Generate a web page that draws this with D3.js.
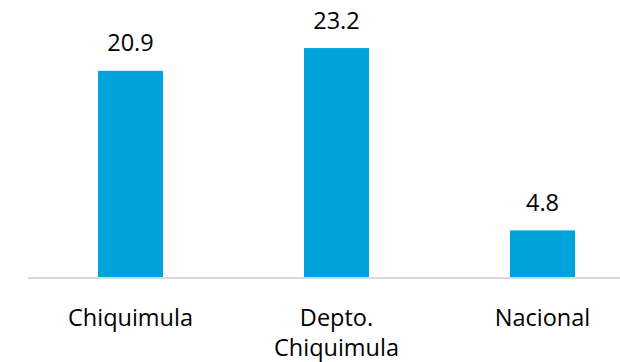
<!DOCTYPE html>
<html>
<head>
<meta charset="utf-8">
<script src="https://cdn.jsdelivr.net/npm/d3@7"></script>
<style>
  html, body { margin: 0; padding: 0; background: #ffffff; }
  svg { display: block; }
</style>
</head>
<body>
<svg id="chart" width="620" height="362"></svg>
<script>
// Category labels (each entry is a list of lines) and values
const categories = ["Chiquimula", "Depto. Chiquimula", "Nacional"];
const labelLines = [["Chiquimula"], ["Depto.", "Chiquimula"], ["Nacional"]];
const values = [20.9, 23.2, 4.8];

const width = 620, height = 362;
const baseline = 278;
const fontFamily = "'Open Sans', 'Noto Sans', sans-serif";
const fontSize = 23.5;

const svg = d3.select("#chart");

const x = d3.scaleBand()
  .domain(categories)
  .range([27.5, 645.5])
  .paddingInner(0.684)
  .paddingOuter(0.342);

const y = d3.scaleLinear()
  .domain([0, 25])
  .range([baseline, baseline - 247.8]);

// Bars
svg.append("g")
  .selectAll("rect")
  .data(values)
  .join("rect")
  .attr("x", (d, i) => x(categories[i]))
  .attr("y", d => y(d))
  .attr("width", x.bandwidth())
  .attr("height", d => y(0) - y(d))
  .attr("fill", "#00a3dc");

// Baseline axis
const axis = svg.append("g")
  .attr("transform", `translate(0,${baseline})`)
  .call(d3.axisBottom(x).tickSize(0).tickFormat(""));
axis.select(".domain")
  .attr("d", `M28,0H${width}`)
  .attr("stroke", "#d9d9d9")
  .attr("stroke-width", 2);

// Value labels
svg.append("g")
  .selectAll("text")
  .data(values)
  .join("text")
  .attr("x", (d, i) => x(categories[i]) + x.bandwidth() / 2)
  .attr("y", d => y(d) - 19.5)
  .attr("text-anchor", "middle")
  .attr("font-family", fontFamily)
  .attr("font-size", fontSize)
  .attr("fill", "#000")
  .text(d => d.toFixed(1));

// Category labels
const cat = svg.append("g")
  .selectAll("text")
  .data(categories)
  .join("text")
  .attr("x", d => x(d) + x.bandwidth() / 2)
  .attr("y", 326)
  .attr("text-anchor", "middle")
  .attr("font-family", fontFamily)
  .attr("font-size", fontSize)
  .attr("fill", "#000");
cat.selectAll("tspan")
  .data((d, i) => labelLines[i])
  .join("tspan")
  .attr("x", function () { return d3.select(this.parentNode).attr("x"); })
  .attr("dy", (d, j) => j === 0 ? 0 : 30)
  .text(d => d);
</script>
</body>
</html>
